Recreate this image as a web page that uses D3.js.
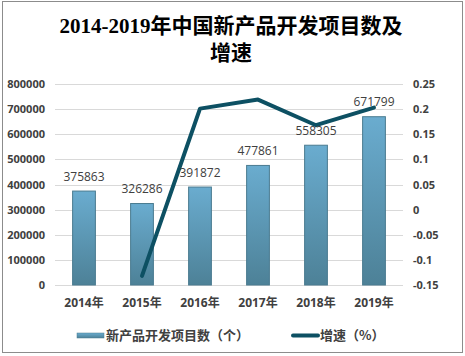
<!DOCTYPE html>
<html><head><meta charset="utf-8">
<script src="https://cdn.jsdelivr.net/npm/d3@7"></script>
<style>
html,body{margin:0;padding:0;background:#fff;}
svg{display:block;}
</style></head>
<body>
<svg id="chart" width="465" height="356"></svg>
<script>
const years = ["2014年","2015年","2016年","2017年","2018年","2019年"];
const projects = [375863, 326286, 391872, 477861, 558305, 671799];
const growth = [null, -0.132, 0.201, 0.219, 0.168, 0.203];
const leftTicks = [0,100000,200000,300000,400000,500000,600000,700000,800000];
const rightTicks = [-0.15,-0.1,-0.05,0,0.05,0.1,0.15,0.2,0.25];
const titleLines = ["2014-2019年中国新产品开发项目数及","增速"];
const legendLabels = ["新产品开发项目数（个）","增速（%）"];

const svg = d3.select("#chart");
const W = 465, H = 356;
const m = {left:55, right:62, top:84, bottom:71};

svg.append("rect").attr("x",2.5).attr("y",1.5).attr("width",460).attr("height",351)
  .attr("fill","#fff").attr("stroke","#8c8c8c").attr("stroke-width",1);

const defs = svg.append("defs");
const grad = defs.append("linearGradient").attr("id","barGrad").attr("x1",0).attr("y1",0).attr("x2",0).attr("y2",1);
grad.append("stop").attr("offset","0%").attr("stop-color","#6aaccf");
grad.append("stop").attr("offset","100%").attr("stop-color","#4d8197");
const gradL = defs.append("linearGradient").attr("id","legGrad").attr("x1",0).attr("y1",0).attr("x2",0).attr("y2",1);
gradL.append("stop").attr("offset","0%").attr("stop-color","#6aaccf");
gradL.append("stop").attr("offset","100%").attr("stop-color","#4d8197");

const x = d3.scaleBand().domain(years).range([m.left, W - m.right]).paddingInner(0.59).paddingOuter(0.295);
const yL = d3.scaleLinear().domain([0,800000]).range([H - m.bottom, m.top]);
const yR = d3.scaleLinear().domain([-0.15,0.25]).range([H - m.bottom, m.top]);

// title
const title = svg.append("g").attr("font-family","'Liberation Serif','Noto Sans CJK SC',serif")
  .attr("font-size",21).attr("font-weight","bold").attr("fill","#000").attr("text-anchor","middle");
titleLines.forEach((t,i)=>{
  title.append("text").attr("x",231).attr("y",33 + i*27).text(t);
});

// gridlines
svg.append("g").selectAll("line").data(leftTicks).join("line")
  .attr("x1",m.left).attr("x2",W-m.right)
  .attr("y1",d=>Math.round(yL(d))+0.5).attr("y2",d=>Math.round(yL(d))+0.5)
  .attr("stroke","#d9d9d9").attr("stroke-width",1);

// left axis
const axL = d3.axisLeft(yL).tickValues(leftTicks).tickSize(0).tickPadding(10).tickFormat(d3.format("d"));
const gL = svg.append("g").attr("transform",`translate(${m.left},0)`).call(axL);
gL.select(".domain").remove();
gL.selectAll("text").attr("font-family","'Open Sans','Noto Sans',sans-serif").attr("font-size",11)
  .attr("font-weight","bold").attr("fill","#404040");

// right axis
const axR = d3.axisRight(yR).tickValues(rightTicks).tickSize(0).tickPadding(10).tickFormat(d=>String(+d.toFixed(2)));
const gR = svg.append("g").attr("transform",`translate(${W-m.right},0)`).call(axR);
gR.select(".domain").remove();
gR.selectAll("text").attr("font-family","'Open Sans','Noto Sans',sans-serif").attr("font-size",11)
  .attr("font-weight","bold").attr("fill","#404040");

// x axis labels
const axX = d3.axisBottom(x).tickSize(0).tickPadding(13);
const gX = svg.append("g").attr("transform",`translate(0,${H-m.bottom})`).call(axX);
gX.select(".domain").remove();
gX.selectAll("text").attr("font-family","'Open Sans','Noto Sans CJK SC',sans-serif").attr("font-size",12)
  .attr("font-weight","bold").attr("fill","#404040");

// bars
svg.append("g").selectAll("rect").data(projects).join("rect")
  .attr("x",(d,i)=>x(years[i])+0.5).attr("width",x.bandwidth()-1)
  .attr("y",d=>yL(d)+0.5).attr("height",d=>yL(0)-yL(d)-0.5)
  .attr("fill","url(#barGrad)").attr("stroke","#4a7b90").attr("stroke-width",1);

// line
const pts = growth.map((g,i)=>({g,i})).filter(d=>d.g!==null);
const line = d3.line().x(d=>x(years[d.i])+x.bandwidth()/2).y(d=>yR(d.g));
svg.append("path").datum(pts).attr("d",line).attr("fill","none")
  .attr("stroke","#0d5063").attr("stroke-width",4).attr("stroke-linejoin","round").attr("stroke-linecap","round");

// data labels
svg.append("g").selectAll("text").data(projects).join("text")
  .attr("x",(d,i)=>x(years[i])+x.bandwidth()/2).attr("y",d=>yL(d)-10)
  .attr("text-anchor","middle").attr("font-family","'Open Sans','Noto Sans',sans-serif")
  .attr("font-size",12).attr("fill","#404040").text(d=>d);

// legend
const leg = svg.append("g");
leg.append("rect").attr("x",77).attr("y",333).attr("width",27).attr("height",5)
  .attr("fill","url(#legGrad)").attr("stroke","#4a7b90").attr("stroke-width",0.5);
leg.append("text").attr("x",106).attr("y",340).text(legendLabels[0]);
leg.append("line").attr("x1",293).attr("x2",318).attr("y1",335.5).attr("y2",335.5)
  .attr("stroke","#0d5063").attr("stroke-width",4).attr("stroke-linecap","round");
leg.append("text").attr("x",320).attr("y",340).text(legendLabels[1]);
leg.selectAll("text").attr("font-family","'Noto Sans CJK SC',sans-serif").attr("font-size",13)
  .attr("font-weight","bold").attr("fill","#404040");
</script>
</body></html>
